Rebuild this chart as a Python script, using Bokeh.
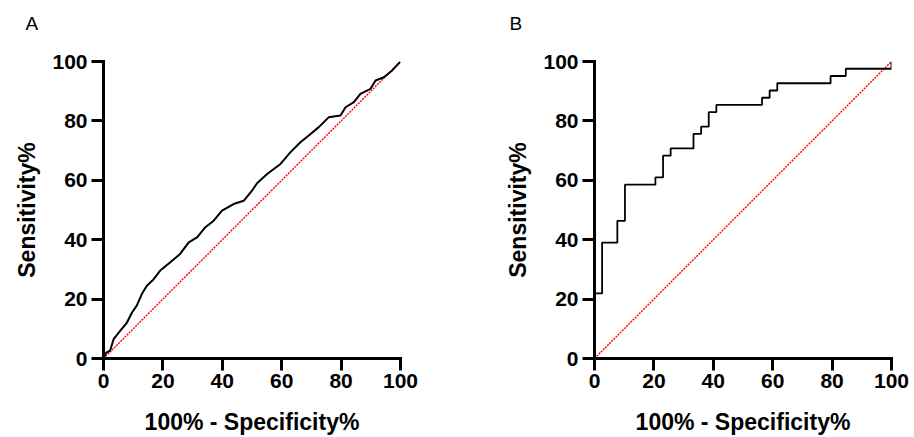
from bokeh.plotting import figure
from bokeh.models import Range1d, FixedTicker, Title
from bokeh.layouts import row
from bokeh.embed import file_html
from bokeh.resources import INLINE

# ---- data ----
ticks = [0, 20, 40, 60, 80, 100]

# Panel A ROC curve (100% - specificity %, sensitivity %)
a_fpr = [0, 0.9, 2.2, 3.4, 5.6, 7.9, 9.6, 11.2, 12.9, 14.6, 16.9, 19.1, 22.5, 25.8,
         28.7, 31.5, 34.3, 37.1, 39.9, 43.8, 47.2, 50.0, 51.7, 55.1, 59.6, 62.9,
         66.3, 69.1, 72.5, 75.8, 79.8, 81.5, 84.3, 86.5, 89.9, 91.6, 94.4, 97.2, 100]
a_tpr = [0, 2.0, 2.6, 6.5, 9.3, 12.1, 15.5, 17.8, 21.7, 24.5, 26.7, 29.6, 32.4, 35.2,
         39.1, 40.8, 44.2, 46.4, 49.8, 52.0, 53.1, 56.5, 59.0, 62.1, 65.5, 69.4,
         72.8, 75.1, 77.9, 81.2, 81.8, 84.6, 86.3, 89.1, 90.8, 93.6, 94.7, 97.0, 100]

# Panel B ROC curve (step points)
b_fpr = [0, 0, 2.56, 7.69, 10.26, 20.51, 23.08, 25.64, 33.33, 35.90, 38.46, 41.03,
         56.41, 58.97, 61.54, 79.49, 84.62, 100]
b_tpr = [0, 21.95, 39.02, 46.34, 58.54, 60.98, 68.29, 70.73, 75.61, 78.05, 82.93,
         85.37, 87.80, 90.24, 92.68, 95.12, 97.56, 100]

diag = [0, 100]

x_title = "100% - Specificity%"
y_title = "Sensitivity%"
panel_labels = ["A", "B"]

FONT = "Liberation Sans"


def make_fig(border_left, border_right, label, label_offset):
    p = figure(frame_width=297, frame_height=297,
               min_border_left=border_left, min_border_right=border_right,
               min_border_top=61, min_border_bottom=79,
               x_range=Range1d(0, 100), y_range=Range1d(0, 100),
               output_backend="svg", toolbar_location=None, tools="")
    p.outline_line_color = None
    p.grid.visible = False
    p.background_fill_color = "white"
    p.border_fill_color = "white"

    # spacer title nearest the frame, then the panel letter above it
    p.add_layout(Title(text=" ", standoff=5, text_font=FONT, text_font_size="19px"), "above")
    p.add_layout(Title(text=label, align="left", offset=label_offset, standoff=0,
                       text_font=FONT, text_font_size="19px",
                       text_font_style="normal", text_color="black"), "above")

    for ax in (p.xaxis[0], p.yaxis[0]):
        ax.ticker = FixedTicker(ticks=ticks)
        ax.axis_line_width = 3
        ax.axis_line_cap = "square"
        ax.major_tick_line_width = 3
        ax.major_tick_out = 12
        ax.major_tick_in = 0
        ax.minor_tick_line_color = None
        ax.major_label_text_font = FONT
        ax.major_label_text_font_size = "21px"
        ax.major_label_text_font_style = "bold"
        ax.major_label_text_color = "black"
        ax.axis_label_text_font = FONT
        ax.axis_label_text_font_size = "23px"
        ax.axis_label_text_font_style = "bold"
        ax.axis_label_text_color = "black"
    p.xaxis[0].axis_label = x_title
    p.yaxis[0].axis_label = y_title
    p.xaxis[0].major_label_standoff = 3
    p.yaxis[0].major_label_standoff = 4
    p.xaxis[0].axis_label_standoff = 18
    p.yaxis[0].axis_label_standoff = 9

    p.line(diag, diag, line_color="#ff0000", line_width=1.4, line_dash="2 1")
    return p


pa = make_fig(103, 57, panel_labels[0], -78)
pa.line(a_fpr, a_tpr, line_color="black", line_width=2)

pb = make_fig(137, 23, panel_labels[1], -85)
pb.step(b_fpr, b_tpr, mode="after", line_color="black", line_width=1.8)

layout = row(pa, pb)

open("out.html", "w").write(file_html(layout, INLINE))
